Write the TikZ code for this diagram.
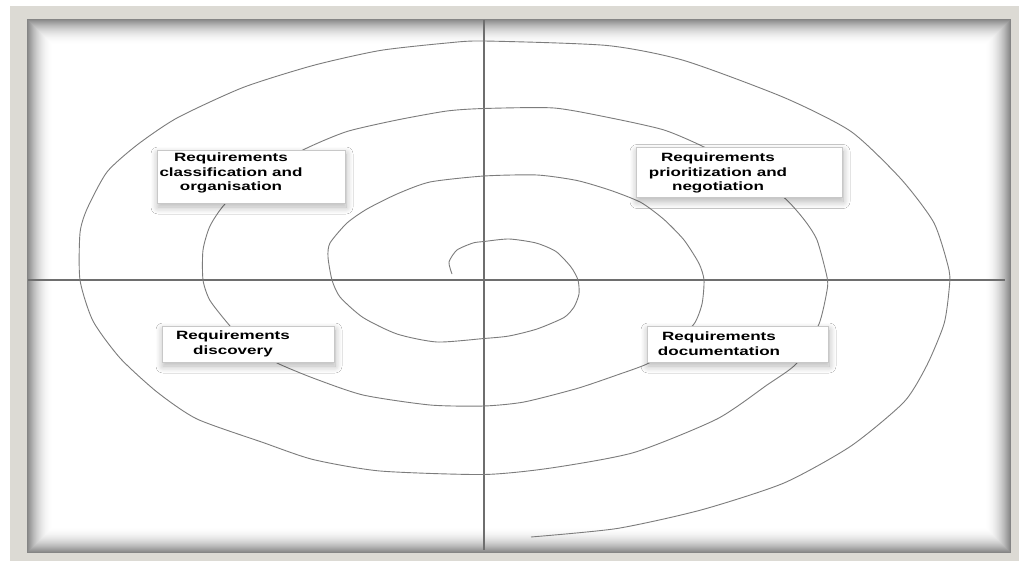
\documentclass[tikz,border=0pt]{standalone}
\usepackage{fontspec}
\newfontfamily\boxfont{Liberation Sans}[FakeStretch=1.42]
\usetikzlibrary{shadows.blur}
\definecolor{framegrey}{HTML}{DCDAD4}
\definecolor{boxedge}{HTML}{C8C8C8}
\definecolor{axisgrey}{HTML}{6E6E6E}
\definecolor{spiralgrey}{HTML}{7C7C7C}
\begin{document}
\begin{tikzpicture}
      [%%%%%%%%%%%%%%%%%%%%%%%%%%%%%%
      x=1pt,y=-1pt,
      box/.style={rectangle,draw=boxedge,fill=white,line width=0.6pt,
        blur shadow={shadow xshift=1pt,shadow yshift=-4pt,shadow blur radius=7pt,
          shadow blur steps=12,shadow opacity=30}},
      txt/.style={align=center,inner sep=0pt,font=\boxfont\bfseries\fontsize{12}{14.8}\selectfont},
      axis/.style={draw=axisgrey,line width=1.1pt},
      spiral/.style={draw=spiralgrey,line width=0.9pt,line join=round},
      ]%%%%%%%%%%%%%%%%%%%%%%%%%%%%%%
      \useasboundingbox (0,0) rectangle (1019,561);
      \fill[white] (0,0) rectangle (1019,561);

      % frame
      \fill[framegrey] (10,6) rectangle (1019,561);
      \fill[white] (28,20) rectangle (1010,552);
      \foreach \k in {0,...,25}{
        \pgfmathsetmacro\shade{48*(1-\k/26)^2}
        \draw[black!\shade,line width=1.05pt] (28+\k,20+\k) rectangle (1010-\k,552-\k);
      }

      % axes
      \coordinate (ytop) at (484,20);
      \coordinate (ybot) at (484,550);
      \coordinate (xleft) at (28,280);
      \coordinate (xright) at (1005,280);
      \draw[axis] (ytop) -- (ybot);
      \draw[axis] (xleft) -- (xright);

      % spiral
      \draw[spiral] plot[smooth,tension=0.4] coordinates {
        (452,274) (449,262) (457,250) (473,243) (484,241.5) (509,239) (536,243)
        (556,251.5) (571,267) (578,280) (579,294) (574,307) (564,317.5) (537,329)
        (509,336) (484,338.5) (437,342) (397,334) (363,317.5) (340,297) (332,280)
        (328,257) (330,243) (347,223) (367,209) (397,194) (430,182) (484,176)
        (537,175) (577,180.5) (611,190.5) (641,202.5) (664,219.5) (684,240)
        (699,263.5) (704,280) (702,304) (694,324) (672,345) (649,363) (617,375)
        (577,388.5) (524,402) (484,406) (430,405) (363,395) (313,378) (277,363)
        (250,347) (230,326) (210,300.5) (203,280) (203,250) (210,226) (225,204)
        (260,173) (307,148) (347,131.5) (397,120) (447,111) (484,108.5) (554,108)
        (611,118) (664,130) (704,147) (745,170) (784,197.5) (804,219.5) (817,240)
        (827,277) (827,290.5) (819,324) (797,363) (767,385) (717,419) (634,452.5)
        (551,468) (484,474.5) (380,471) (313,459.5) (263,442.5) (197,419) (157,392)
        (120,358) (93,321) (80,280) (80,233) (87,209) (107,172) (137,145) (177,118)
        (243,87.5) (313,65.5) (380,50.5) (447,43) (484,41) (607,45.5) (684,60.5)
        (784,97.5) (851,131.5) (901,179) (934,223) (949,270) (949,290.5) (944,324)
        (927,365) (904,402) (851,446) (784,483) (701,510) (617,528.5) (531,537)};

      % boxes
      \node[box,minimum width=188pt,minimum height=53pt] (classify) at (251,176.5){};
      \node[box,minimum width=206pt,minimum height=50pt] (prioritize) at (739,172.5){};
      \node[box,minimum width=172pt,minimum height=36pt] (discover) at (248,344){};
      \node[box,minimum width=181pt,minimum height=36pt] (document) at (737.5,344){};

      \node[txt] (classify-txt) at (231,173){Requirements\\classification and\\organisation};
      \node[txt] (prioritize-txt) at (718,173){Requirements\\prioritization and\\negotiation};
      \node[txt] (discover-txt) at (233,343.5){Requirements\\discovery};
      \node[txt] (document-txt) at (719,343.5){Requirements\\documentation};
    \end{tikzpicture}
\end{document}
